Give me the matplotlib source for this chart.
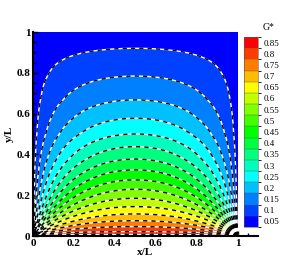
import numpy as np
import matplotlib
matplotlib.use('Agg')
from matplotlib import pyplot as plt  # noqa
from matplotlib.colors import LinearSegmentedColormap, ListedColormap, BoundaryNorm  # noqa
from matplotlib.cm import ScalarMappable  # noqa

plt.rcParams['font.family'] = ['Liberation Serif', 'DejaVu Serif']

# contour levels of G*
LEVELS = [0.05, 0.10, 0.15, 0.20, 0.25, 0.30, 0.35, 0.40, 0.45,
          0.50, 0.55, 0.60, 0.65, 0.70, 0.75, 0.80, 0.85]

# G* along the centre line x/L = 0.5
Y_CENTRE = [0.0, 0.008, 0.021, 0.046, 0.075, 0.108, 0.144, 0.185, 0.229,
            0.275, 0.324, 0.377, 0.438, 0.5, 0.577, 0.667, 0.784, 0.92, 1.0]
G_CENTRE = [0.88, 0.85, 0.80, 0.75, 0.70, 0.65, 0.60, 0.55, 0.50,
            0.45, 0.40, 0.35, 0.30, 0.25, 0.20, 0.15, 0.10, 0.05, 0.02]

# how sharply the contours bend down at the side walls, by height
# (exponent on the conduction shape; smaller = flatter, boxier contours)
Y_SHAPE = [0.0, 0.3, 0.5, 0.7, 0.85, 1.0]
P_SHAPE = [0.70, 0.62, 0.58, 0.50, 0.43, 0.40]

X_TICKS = [0, 0.2, 0.4, 0.6, 0.8, 1]
Y_TICKS = [0, 0.2, 0.4, 0.6, 0.8, 1]

rainbow = LinearSegmentedColormap.from_list(
    'small_rainbow', ['#0000ff', '#00ffff', '#00ff00', '#ffff00', '#ff0000'])
box_colors = [rainbow(t) for t in np.linspace(0, 1, len(LEVELS))]
# flood band below each level takes that level's legend colour
band_colors = box_colors + [box_colors[-1]]


def conduction_shape(x, y, terms=400):
    # square with heated floor and cold walls, as a fraction of the centre value
    total = np.zeros_like(x)
    centre = np.zeros_like(y)
    for n in range(1, 2 * terms, 2):
        decay = np.exp(-n * np.pi * y) * (1 - np.exp(-2 * n * np.pi * (1 - y)))
        total += 4 / (n * np.pi) * np.sin(n * np.pi * x) * decay
        centre += 4 / (n * np.pi) * np.sin(n * np.pi * 0.5) * decay
    return np.clip(total / np.maximum(centre, 1e-12), 0, 1)


xs = np.linspace(0, 1, 401)
ys = np.linspace(0, 1, 401)
X, Y = np.meshgrid(xs, ys)
shape = conduction_shape(X, Y)
shape[0, 1:-1] = 1.0
G = np.interp(Y, Y_CENTRE, G_CENTRE) * shape ** np.interp(Y, Y_SHAPE, P_SHAPE)

fig = plt.figure(figsize=(2.91, 2.60), dpi=100)
ax = fig.add_axes([33 / 291, 24 / 260, 225 / 291, 204 / 260])

bounds = [-1.0] + LEVELS + [2.0]
ax.contourf(xs, ys, G, levels=bounds, colors=band_colors)
ax.contour(xs, ys, G, levels=LEVELS, colors='white', linewidths=1.0)
ax.contour(xs, ys, G, levels=LEVELS, colors='black', linewidths=1.0,
           linestyles=[(0, (3, 3))])

ax.set_xlim(0, 1.1)
ax.set_ylim(0, 1)
ax.spines['top'].set_visible(False)
ax.spines['right'].set_visible(False)
for s in ('left', 'bottom'):
    ax.spines[s].set_linewidth(1.5)
ax.set_xticks(X_TICKS)
ax.set_yticks(Y_TICKS)
ax.set_xticklabels(['%g' % v for v in X_TICKS])
ax.set_yticklabels(['%g' % v for v in Y_TICKS])
ax.set_xticks(np.arange(0, 1.1, 0.05), minor=True)
ax.set_yticks(np.arange(0, 1.01, 0.05), minor=True)
ax.tick_params(which='both', direction='in', width=1.0, labelsize=8, pad=2)
ax.tick_params(which='major', length=3.5)
ax.tick_params(which='minor', length=2)
for lab in ax.get_xticklabels() + ax.get_yticklabels():
    lab.set_fontweight('bold')
ax.set_xlabel('x/L', fontsize=8, fontweight='bold', labelpad=0)
ax.set_ylabel('y/L', fontsize=8, fontweight='bold', labelpad=2)

# legend boxes, one per level, labelled at their centres
cax = fig.add_axes([244 / 291, 33 / 260, 14 / 291, 190 / 260])
box_bounds = [v - 0.025 for v in LEVELS] + [LEVELS[-1] + 0.025]
sm = ScalarMappable(norm=BoundaryNorm(box_bounds, len(LEVELS)),
                    cmap=ListedColormap(box_colors))
cb = fig.colorbar(sm, cax=cax, ticks=LEVELS, drawedges=True)
cb.outline.set_linewidth(0.4)
cb.outline.set_edgecolor('#555555')
cb.dividers.set_linewidth(0.3)
cb.dividers.set_color('#555555')
cb.ax.set_yticklabels(['%g' % v for v in LEVELS])
cb.ax.tick_params(length=0, labelsize=6.5, pad=4)
fig.text(269 / 291, 1 - 27 / 260, 'G*', ha='center', va='center', fontsize=7)

fig.savefig('out.png', dpi=100)
